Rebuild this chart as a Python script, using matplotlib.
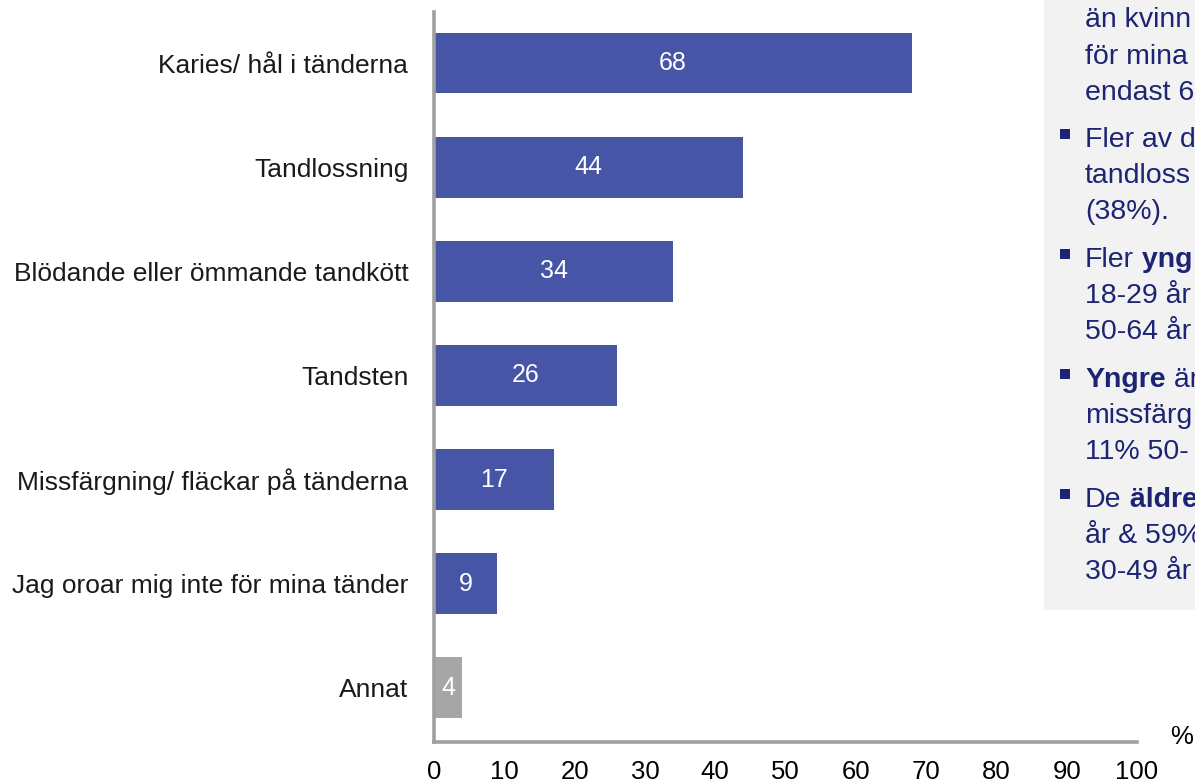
import matplotlib
matplotlib.use('Agg')
import matplotlib.pyplot as plt
from matplotlib.patches import Rectangle

plt.rcParams['font.family'] = ['Liberation Sans', 'DejaVu Sans']

categories = ['Karies/ hål i tänderna', 'Tandlossning', 'Blödande eller ömmande tandkött',
              'Tandsten', 'Missfärgning/ fläckar på tänderna',
              'Jag oroar mig inte för mina tänder', 'Annat']
values = [68, 44, 34, 26, 17, 9, 4]
colors = ['#4655a5'] * 6 + ['#a6a6a6']
xticks = [0, 10, 20, 30, 40, 50, 60, 70, 80, 90, 100]

# text box lines (cut off at the right edge): (bullet, [(text, bold), ...])
box_lines = [
    (False, [('än kvinn', False)]),
    (False, [('för mina', False)]),
    (False, [('endast 6', False)]),
    (True, [('Fler av d', False)]),
    (False, [('tandloss', False)]),
    (False, [('(38%).', False)]),
    (True, [('Fler', False), (' yng', True)]),
    (False, [('18-29 år', False)]),
    (False, [('50-64 år', False)]),
    (True, [('Yngre', True), (' är', False)]),
    (False, [('missfärg', False)]),
    (False, [('11% 50-', False)]),
    (True, [('De', False), (' äldre', True)]),
    (False, [('år & 59%', False)]),
    (False, [('30-49 år', False)]),
]
box_y = [20, 57, 93, 140, 176, 212, 260, 296, 332, 380, 416, 452, 500, 536, 572]

W, H = 1195, 784
fig = plt.figure(figsize=(W / 100, H / 100), dpi=100)
ax = fig.add_axes([434 / W, 42 / H, (1137 - 434) / W, 730 / H])

ypos = list(range(len(categories)))
ax.barh(ypos, values, height=0.585, color=colors)
for y, v in zip(ypos, values):
    ax.text(v / 2, y, str(v), color='white', fontsize=18, ha='center', va='center')

ax.set_xlim(0, 100)
ax.set_ylim(6.52, -0.49)
ax.set_yticks(ypos)
ax.set_yticklabels(categories, fontsize=19, color='#1a1a1a')
ax.set_xticks(xticks)
ax.set_xticklabels([str(t) for t in xticks], fontsize=18.5)
ax.tick_params(axis='both', length=0)
ax.tick_params(axis='y', pad=18.5)
ax.tick_params(axis='x', pad=13)
for s in ['top', 'right']:
    ax.spines[s].set_visible(False)
for s in ['left', 'bottom']:
    ax.spines[s].set_color('#a0a0a0')
    ax.spines[s].set_linewidth(2.6)

fig.text(1182 / W, 1 - 737 / H, '%', fontsize=18.5, ha='center', va='center')

# grey note box on the right
fig.patches.append(Rectangle((1044 / W, 1 - 610 / H), (W - 1044) / W + 0.01, 610 / H + 0.01,
                             transform=fig.transFigure, facecolor='#f2f2f2',
                             edgecolor='none', zorder=0))
navy = '#1c2473'
fig.canvas.draw()
renderer = fig.canvas.get_renderer()
for (bullet, parts), y in zip(box_lines, box_y):
    yf = 1 - y / H
    if bullet:
        fig.patches.append(Rectangle((1060 / W, 1 - (y - 1) / H), 10 / W, 10 / H,
                                     transform=fig.transFigure, facecolor=navy,
                                     edgecolor='none'))
    x = 1085
    for txt, bold in parts:
        t = fig.text(x / W, yf, txt, fontsize=20.5, color=navy,
                     fontweight='bold' if bold else 'normal', ha='left', va='center')
        x += t.get_window_extent(renderer).width

fig.savefig('out.png', dpi=100)
